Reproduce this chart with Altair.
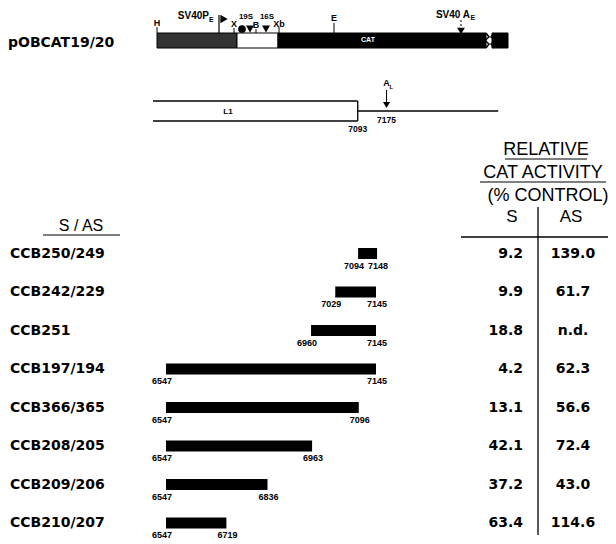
import altair as alt
import pandas as pd

# ---------------- data ----------------
constructs = ["CCB250/249", "CCB242/229", "CCB251", "CCB197/194",
              "CCB366/365", "CCB208/205", "CCB209/206", "CCB210/207"]
seg_start = [7094, 7029, 6960, 6547, 6547, 6547, 6547, 6547]
seg_end = [7148, 7145, 7145, 7145, 7096, 6963, 6836, 6719]
act_s = ["9.2", "9.9", "18.8", "4.2", "13.1", "42.1", "37.2", "63.4"]
act_as = ["139.0", "61.7", "n.d.", "62.3", "56.6", "72.4", "43.0", "114.6"]

# L1 map (nucleotides)
l1_left = 6510
l1_end = 7093
a_l_site = 7175
map_right = 7493

# plasmid schematic pOBCAT19/20 (schematic map units)
map_seg_start = [157, 237, 278, 492]
map_seg_end = [237, 278, 486, 508]
map_seg_fill = ["#333333", "#ffffff", "#000000", "#000000"]
site_names = ["H", "X", "B", "Xb", "E"]
site_pos = [157, 234, 256, 279, 334]

# ---------------- scales ----------------
H = 534
PX = alt.Scale(domain=[8, 608], range=[0, 600], nice=False, zero=False)
PY = alt.Scale(domain=[8, 8 + H], range=[0, H], nice=False, zero=False)
NT = alt.Scale(domain=[6547, 7145], range=[158, 368], nice=False, zero=False)
ROW = alt.Scale(domain=[0, 7], range=[245.5, 515], nice=False, zero=False)


def X(f, s):
    return alt.X(f, type="quantitative", scale=s, axis=None)


def Y(f, s):
    return alt.Y(f, type="quantitative", scale=s, axis=None)


def text_layer(df, xs=PX, ys=PY, **mark):
    return alt.Chart(df).mark_text(**mark).encode(
        x=X("x", xs), y=Y("y", ys), text=alt.Text("t:N"))


def rules(df, xs=PX, ys=PY, **mark):
    enc = dict(x=X("x", xs), y=Y("y", ys))
    if "x2" in df:
        enc["x2"] = alt.X2("x2")
    if "y2" in df:
        enc["y2"] = alt.Y2("y2")
    return alt.Chart(df).mark_rule(**mark).encode(**enc)


def points(df, xs=PX, ys=PY, **mark):
    return alt.Chart(df).mark_point(filled=True, color="black", opacity=1, **mark).encode(
        x=X("x", xs), y=Y("y", ys))


BOLD = dict(font="DejaVu Sans", fontWeight="bold")
HEL = dict(font="Liberation Sans")
HELB = dict(font="Liberation Sans", fontWeight="bold")

layers = []

# ---------- title ----------
layers.append(text_layer(pd.DataFrame({"x": [8], "y": [43], "t": ["pOBCAT19/20"]}),
                         align="left", baseline="middle", fontSize=14, **BOLD))

# ---------- plasmid map ----------
mseg = pd.DataFrame({"x": map_seg_start, "x2": map_seg_end, "c": map_seg_fill,
                     "y": [33] * 4, "y2": [48] * 4})
layers.append(alt.Chart(mseg).mark_rect(stroke="black", strokeWidth=1).encode(
    x=X("x", PX), x2="x2", y=Y("y", PY), y2="y2",
    fill=alt.Fill("c:N", scale=None)))
# torn edges
zz = pd.DataFrame({"x": [486, 489, 485, 489, 486], "y": [33, 37, 40.5, 44, 48], "o": range(5)})
zz2 = pd.DataFrame({"x": [494, 491, 495, 491, 494], "y": [33, 37, 40.5, 44, 48], "o": range(5)})
for z in (zz, zz2):
    layers.append(alt.Chart(z).mark_line(color="black", strokeWidth=1.5).encode(
        x=X("x", PX), y=Y("y", PY), order="o:Q"))
# site ticks and labels
layers.append(rules(pd.DataFrame({"x": site_pos, "y": [27, 28, 29, 27, 23], "y2": [33] * 5}),
                    color="black", strokeWidth=1))
layers.append(text_layer(pd.DataFrame({"x": site_pos, "y": [23, 24, 25, 24, 18], "t": site_names}),
                         align="center", baseline="middle", fontSize=9, **HELB))
# promoter flag
layers.append(rules(pd.DataFrame({"x": [219], "y": [15], "y2": [33]}), color="black", strokeWidth=1.2))
layers.append(points(pd.DataFrame({"x": [224], "y": [19]}), shape="triangle-right", size=70))
layers.append(text_layer(pd.DataFrame({"x": [209], "y": [16], "t": ["SV40P"]}),
                         align="right", baseline="middle", fontSize=10, **HELB))
layers.append(text_layer(pd.DataFrame({"x": [209], "y": [20], "t": ["E"]}),
                         align="left", baseline="middle", fontSize=7, **HELB))
# circle and triangles
layers.append(points(pd.DataFrame({"x": [242], "y": [29]}), shape="circle", size=60))
layers.append(points(pd.DataFrame({"x": [250, 266], "y": [29, 29]}), shape="triangle-down", size=65))
layers.append(text_layer(pd.DataFrame({"x": [246, 267], "y": [17, 17], "t": ["19S", "16S"]}),
                         align="center", baseline="middle", fontSize=8, **HELB))
# SV40 early polyA
layers.append(rules(pd.DataFrame({"x": [461], "y": [20], "y2": [28]}), color="black",
                    strokeWidth=1, strokeDash=[2, 2]))
layers.append(points(pd.DataFrame({"x": [461], "y": [31]}), shape="triangle-down", size=60))
layers.append(text_layer(pd.DataFrame({"x": [470], "y": [15], "t": ["SV40 A"]}),
                         align="right", baseline="middle", fontSize=10, **HELB))
layers.append(text_layer(pd.DataFrame({"x": [470.5], "y": [18], "t": ["E"]}),
                         align="left", baseline="middle", fontSize=7, **HELB))
layers.append(text_layer(pd.DataFrame({"x": [368], "y": [40], "t": ["CAT"]}),
                         align="center", baseline="middle", fontSize=7, color="white", **HELB))

# ---------- L1 map ----------
l1 = pd.DataFrame({"x": [l1_left, l1_left, l1_end, l1_end],
                   "x2": [l1_end, l1_end, l1_end, map_right],
                   "y": [101, 121, 101, 111], "y2": [101, 121, 121, 111]})
layers.append(rules(l1, xs=NT, color="black", strokeWidth=1.3))
layers.append(rules(pd.DataFrame({"x": [a_l_site], "y": [90], "y2": [103]}), xs=NT,
                    color="black", strokeWidth=1))
layers.append(points(pd.DataFrame({"x": [a_l_site], "y": [105]}), xs=NT, shape="triangle-down", size=50))
layers.append(text_layer(pd.DataFrame({"x": [a_l_site], "y": [83], "t": ["A"]}), xs=NT,
                         align="center", baseline="middle", fontSize=9, **HELB))
layers.append(text_layer(pd.DataFrame({"x": [a_l_site], "y": [87], "t": ["L"]}), xs=NT,
                         align="left", baseline="middle", fontSize=6, dx=3, **HELB))
layers.append(text_layer(pd.DataFrame({"x": [l1_end, a_l_site], "y": [129, 120],
                                       "t": [str(l1_end), str(a_l_site)]}), xs=NT,
                         align="center", baseline="middle", fontSize=8.5, **HELB))
layers.append(text_layer(pd.DataFrame({"x": [228], "y": [112], "t": ["L1"]}),
                         align="center", baseline="middle", fontSize=8, **HELB))

# ---------- right header ----------
hdr = pd.DataFrame({"x": [546, 543, 548], "y": [150, 173, 196],
                    "t": ["RELATIVE", "CAT ACTIVITY", "(% CONTROL)"]})
layers.append(text_layer(hdr, align="center", baseline="middle", fontSize=18, **HEL))
layers.append(rules(pd.DataFrame({"x": [505, 480], "x2": [587, 606], "y": [159, 182]}),
                    color="black", strokeWidth=1.2))
layers.append(text_layer(pd.DataFrame({"x": [512, 571], "y": [217, 217], "t": ["S", "AS"]}),
                         align="center", baseline="middle", fontSize=17, **HEL))
layers.append(rules(pd.DataFrame({"x": [461], "x2": [615], "y": [237]}), color="black", strokeWidth=1.5))
layers.append(rules(pd.DataFrame({"x": [538], "y": [207], "y2": [535]}), color="black", strokeWidth=1.3))

# ---------- left header ----------
layers.append(text_layer(pd.DataFrame({"x": [81], "y": [226], "t": ["S  /  AS"]}),
                         align="center", baseline="middle", fontSize=16, **HEL))
layers.append(rules(pd.DataFrame({"x": [43], "x2": [120], "y": [235]}), color="black", strokeWidth=1.2))

# ---------- rows ----------
rows = pd.DataFrame({"name": constructs, "r": list(range(len(constructs))),
                     "s": seg_start, "e": seg_end, "as_": act_as, "ss": act_s})
layers.append(alt.Chart(rows).mark_text(align="left", baseline="middle", fontSize=14, **BOLD).encode(
    x=alt.value(2), y=Y("r", ROW), text="name:N"))
layers.append(alt.Chart(rows).mark_rule(color="black", strokeWidth=11).encode(
    x=X("s", NT), x2="e", y=Y("r", ROW)))
layers.append(alt.Chart(rows).mark_text(align="center", baseline="middle", fontSize=9, dy=12, dx=-4, **HELB).encode(
    x=X("s", NT), y=Y("r", ROW), text="s:N"))
layers.append(alt.Chart(rows).mark_text(align="center", baseline="middle", fontSize=9, dy=12, dx=1, **HELB).encode(
    x=X("e", NT), y=Y("r", ROW), text="e:N"))
layers.append(alt.Chart(rows).mark_text(align="right", baseline="middle", fontSize=14, **BOLD).encode(
    x=alt.value(515), y=Y("r", ROW), text="ss:N"))
layers.append(alt.Chart(rows).mark_text(align="center", baseline="middle", fontSize=14, **BOLD).encode(
    x=alt.value(565), y=Y("r", ROW), text="as_:N"))

chart = alt.layer(*layers).resolve_scale(x="independent", y="independent").properties(
    width=600, height=H, autosize=alt.AutoSizeParams(type="none"), padding=0
).configure_view(stroke=None)

chart.save("out.html", embed_options={"renderer": "svg", "actions": False})
